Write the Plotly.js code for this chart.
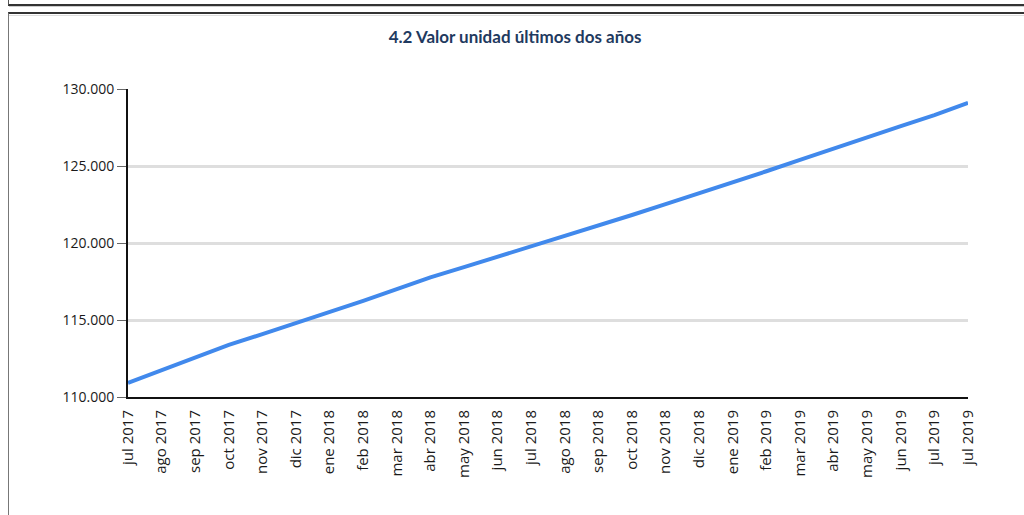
<!DOCTYPE html>
<html>
<head>
<meta charset="utf-8">
<script src="https://cdn.plot.ly/plotly-3.0.1.min.js"></script>
<style>
  html, body { margin: 0; padding: 0; background: #fff; }
  #wrap { position: relative; width: 1024px; height: 515px; overflow: hidden; }
  #chart { position: absolute; left: 0; top: 0; width: 1024px; height: 515px; }
  .b1 { position: absolute; left: 8px; top: -10px; width: 1030px; height: 14px; border-left: 1px solid #555; border-bottom: 2px solid #333; }
  .b1s { position: absolute; left: 9px; top: 6px; width: 1030px; height: 0; border-top: 1px solid #ccc; }
  .b2 { position: absolute; left: 8px; top: 12px; width: 1030px; height: 520px; border-left: 1px solid #777; border-top: 2px solid #333; }
  .b2s { position: absolute; left: 9px; top: 15px; width: 1030px; height: 0; border-top: 1px solid #ddd; }
</style>
</head>
<body>
<div id="wrap">
  <div id="chart"></div>
  <div class="b1"></div><div class="b1s"></div>
  <div class="b2"></div><div class="b2s"></div>
</div>
<script>
// Month labels (last label repeated as in the source chart)
const monthLabels = [
  "jul 2017","ago 2017","sep 2017","oct 2017","nov 2017","dic 2017",
  "ene 2018","feb 2018","mar 2018","abr 2018","may 2018","jun 2018",
  "jul 2018","ago 2018","sep 2018","oct 2018","nov 2018","dic 2018",
  "ene 2019","feb 2019","mar 2019","abr 2019","may 2019","jun 2019",
  "jul 2019","jul 2019"
];
// Valor unidad
const valorUnidad = [
  110910, 111730, 112550, 113380, 114080, 114800,
  115470, 116240, 117000, 117770, 118430, 119100,
  119760, 120450, 121130, 121820, 122520, 123220,
  123920, 124660, 125400, 126150, 126870, 127590,
  128310, 129100
];
const yTicks = [110000, 115000, 120000, 125000, 130000];

const xIdx = monthLabels.map((_, i) => i);

const trace = {
  x: xIdx,
  y: valorUnidad,
  type: "scatter",
  mode: "lines",
  line: { color: "#4189ec", width: 4 },
  hoverinfo: "skip"
};

const layout = {
  width: 1024, height: 515,
  margin: { l: 128, r: 56, t: 89, b: 118 },
  paper_bgcolor: "#fff",
  plot_bgcolor: "#fff",
  separators: ",.",
  showlegend: false,
  title: {
    text: "<b>4.2 Valor unidad últimos dos años</b>",
    font: { family: "Lato, sans-serif", size: 17, color: "#1f3a60" },
    xref: "container", x: 0.503, xanchor: "center",
    yref: "container", y: 1 - 37/515, yanchor: "middle"
  },
  xaxis: {
    range: [0, 25],
    tickmode: "array",
    tickvals: xIdx,
    ticktext: monthLabels,
    tickangle: -90,
    ticks: "outside",
    ticklen: 5,
    tickcolor: "rgba(0,0,0,0)",
    showgrid: false,
    zeroline: false,
    showline: true,
    linecolor: "#111",
    linewidth: 2,
    tickfont: { family: "Open Sans, sans-serif", size: 15, color: "#1a1a1a" },
    fixedrange: true
  },
  yaxis: {
    range: [110000, 130000],
    tickmode: "array",
    tickvals: yTicks,
    tickformat: ",d",
    ticks: "outside",
    ticklen: 9,
    tickwidth: 1,
    tickcolor: "#666",
    showgrid: true,
    gridcolor: "#dedede",
    gridwidth: 3,
    zeroline: false,
    showline: true,
    linecolor: "#111",
    linewidth: 2,
    tickfont: { family: "Open Sans, sans-serif", size: 14, color: "#1a1a1a" },
    fixedrange: true
  }
};

Plotly.newPlot("chart", [trace], layout, { displayModeBar: false, staticPlot: true });
</script>
</body>
</html>
